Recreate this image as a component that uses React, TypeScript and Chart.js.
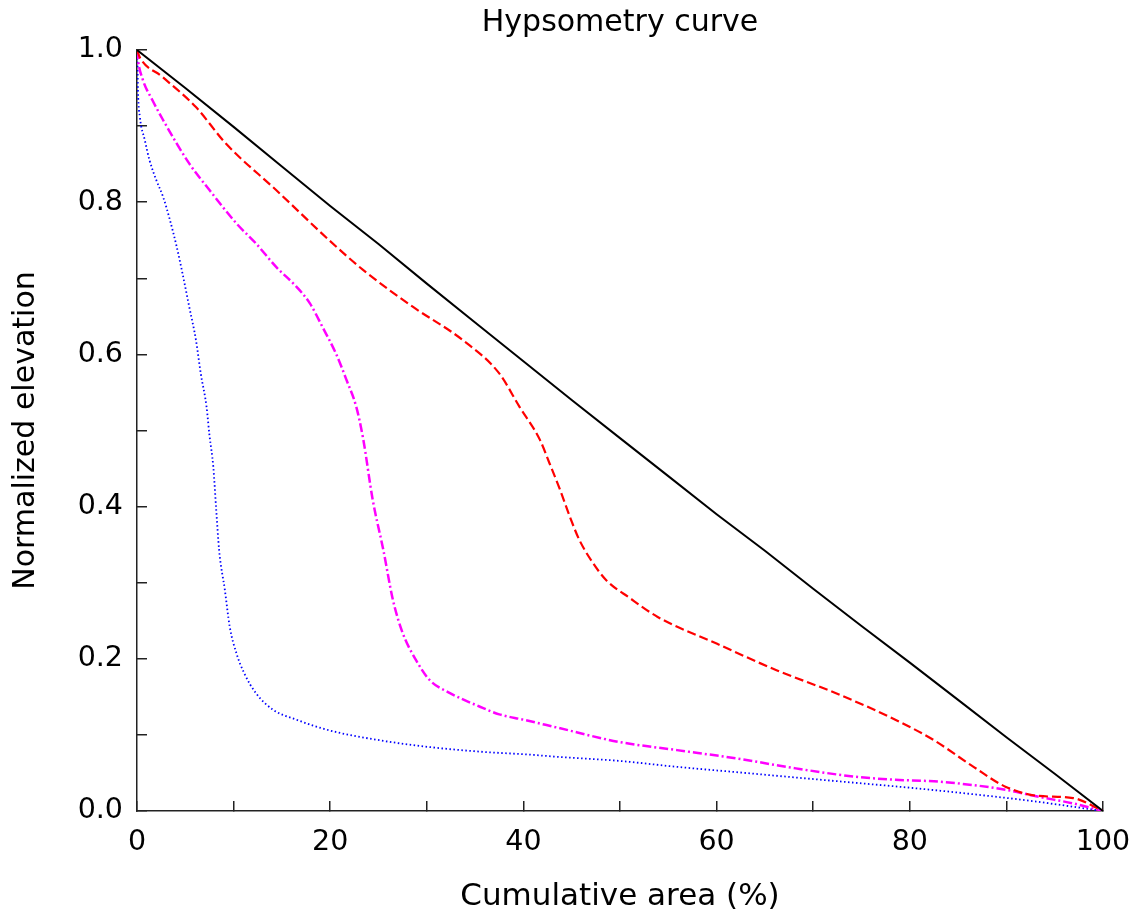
import React, { useEffect, useRef } from 'react';
import { Chart, registerables } from 'chart.js';

Chart.register(...registerables);

const FONT = '"DejaVu Sans", Verdana, sans-serif';

const chartTitle = 'Hypsometry curve';
const xAxisTitle = 'Cumulative area (%)';
const yAxisTitle = 'Normalized elevation';

// Black (solid)
const blackX = [0, 5, 10, 15, 20, 25, 30, 35, 40, 45, 50, 55, 60, 65, 70, 75, 80, 85, 90, 95, 100];
const blackY = [1.0, 0.95, 0.899, 0.847, 0.795, 0.745, 0.693, 0.642, 0.591, 0.54, 0.49, 0.44, 0.39, 0.342, 0.292, 0.243, 0.195, 0.146, 0.097, 0.049, 0.0];

// Red (dashed)
const redX = [0, 0.3, 2.6, 6.1, 9.2, 14.4, 19.9, 23.4, 28.5, 33.7, 37.5, 39.6, 41.7, 42.7, 43.8, 44.8, 45.8, 47.2, 48.6, 51.0, 53.9, 60, 66.2, 72.3, 78.5, 82.5, 86.6, 89.9, 93.2, 96.9, 100];
const redY = [1.0, 0.99, 0.965, 0.925, 0.877, 0.816, 0.75, 0.711, 0.663, 0.619, 0.575, 0.531, 0.488, 0.457, 0.422, 0.387, 0.356, 0.326, 0.303, 0.28, 0.255, 0.22, 0.185, 0.155, 0.12, 0.093, 0.058, 0.032, 0.02, 0.017, 0.0];

// Magenta (dash-dot)
const magentaX = [0, 0.1, 0.6, 1.6, 2.7, 5.4, 7.5, 10.3, 12.3, 14.4, 16.5, 17.9, 19.2, 20.6, 21.7, 22.7, 23.4, 24.4, 25.5, 26.5, 27.5, 28.9, 30.3, 32.4, 35.5, 37.5, 40, 43.7, 49.8, 55.9, 62.1, 68.2, 74.4, 78.5, 82.5, 86.6, 89.9, 93.2, 96.9, 100];
const magentaY = [1.0, 0.987, 0.961, 0.934, 0.908, 0.851, 0.816, 0.772, 0.746, 0.715, 0.689, 0.667, 0.636, 0.601, 0.566, 0.531, 0.49, 0.409, 0.343, 0.277, 0.234, 0.198, 0.172, 0.155, 0.137, 0.127, 0.12, 0.109, 0.091, 0.08, 0.069, 0.056, 0.045, 0.041, 0.039, 0.034, 0.028, 0.019, 0.01, 0.0];

// Blue (dotted)
const blueX = [0, 0.05, 0.1, 0.3, 0.8, 1.3, 2.0, 2.7, 3.4, 4.1, 4.7, 5.4, 6.1, 6.6, 7.2, 7.5, 7.9, 8.2, 8.5, 9.1, 9.6, 10.3, 11.1, 12.3, 14.1, 16.5, 19.9, 25.1, 30.3, 35.5, 40.7, 43.7, 49.8, 55.9, 62.1, 68.2, 74.4, 80.5, 86.6, 92.7, 100];
const blueY = [1.0, 0.982, 0.947, 0.912, 0.882, 0.855, 0.829, 0.807, 0.777, 0.742, 0.707, 0.663, 0.619, 0.575, 0.531, 0.494, 0.452, 0.396, 0.343, 0.29, 0.242, 0.207, 0.181, 0.155, 0.133, 0.12, 0.106, 0.093, 0.084, 0.078, 0.074, 0.071, 0.066, 0.058, 0.051, 0.044, 0.037, 0.03, 0.022, 0.013, 0.0];

const xMajorTicks = [0, 20, 40, 60, 80, 100];
const yMajorTicks = ['0.0', '0.2', '0.4', '0.6', '0.8', '1.0'];

function pts(xs: number[], ys: number[]) {
  return xs.map((x, i) => ({ x, y: ys[i] }));
}

const titlePlugin = {
  id: 'centeredTitle',
  afterDraw(chart: any) {
    const { ctx, chartArea } = chart;
    ctx.save();
    ctx.font = `normal 30px ${FONT}`;
    ctx.fillStyle = '#000';
    ctx.textAlign = 'center';
    ctx.textBaseline = 'alphabetic';
    ctx.fillText(chartTitle, (chartArea.left + chartArea.right) / 2, 31);
    ctx.restore();
  },
};

export default function App() {
  const ref = useRef<HTMLCanvasElement>(null);

  useEffect(() => {
    if (!ref.current) return;
    const axisColor = '#222';
    const chart = new Chart(ref.current, {
      type: 'line',
      data: {
        datasets: [
          { data: pts(blackX, blackY), borderColor: '#000000', borderWidth: 2, pointRadius: 0, tension: 0, fill: false },
          { data: pts(redX, redY), borderColor: '#ff0000', borderWidth: 2.2, borderDash: [9, 4], pointRadius: 0, cubicInterpolationMode: 'monotone', fill: false },
          { data: pts(magentaX, magentaY), borderColor: '#ff00ff', borderWidth: 2.5, borderDash: [9, 3, 2, 3], pointRadius: 0, cubicInterpolationMode: 'monotone', fill: false },
          { data: pts(blueX, blueY), borderColor: '#0000ff', borderWidth: 1.8, borderDash: [1.5, 2.5], pointRadius: 0, cubicInterpolationMode: 'monotone', fill: false },
        ] as any,
      },
      options: {
        animation: false,
        responsive: true,
        maintainAspectRatio: false,
        layout: { padding: { left: 0, right: 42, top: 50, bottom: 0 } },
        plugins: {
          legend: { display: false },
          tooltip: { enabled: false },
          title: { display: false },
        },
        scales: {
          x: {
            type: 'linear',
            min: 0,
            max: 100,
            ticks: {
              stepSize: 10,
              autoSkip: false,
              maxRotation: 0,
              color: '#000',
              padding: 24,
              font: { family: FONT, size: 28.5 },
              callback: (v: any) => (xMajorTicks.includes(Number(v)) ? String(v) : ''),
            },
            grid: { drawOnChartArea: false, drawTicks: true, tickLength: -10, color: axisColor, lineWidth: 1.5 },
            border: { display: true, color: axisColor, width: 1.5 },
            title: {
              display: true,
              text: xAxisTitle,
              color: '#000',
              font: { family: FONT, size: 31 },
              padding: { top: 0, bottom: 5 },
            },
            afterFit: (s: any) => { s.height = 110; s.paddingLeft = 0; s.paddingRight = 0; },
          },
          y: {
            type: 'linear',
            min: 0,
            max: 1,
            ticks: {
              stepSize: 0.1,
              autoSkip: false,
              color: '#000',
              padding: 24,
              font: { family: FONT, size: 28.5 },
              callback: (v: any) => {
                const s = Number(v).toFixed(1);
                return yMajorTicks.includes(s) ? s : '';
              },
            },
            grid: { drawOnChartArea: false, drawTicks: true, tickLength: -10, color: axisColor, lineWidth: 1.5 },
            border: { display: true, color: axisColor, width: 1.5 },
            title: {
              display: true,
              text: yAxisTitle,
              color: '#000',
              font: { family: FONT, size: 30 },
              padding: { top: 8, bottom: 0 },
            },
            afterFit: (s: any) => { s.width = 137; s.paddingTop = 0; s.paddingBottom = 0; },
          },
        },
      } as any,
      plugins: [titlePlugin],
    });
    return () => chart.destroy();
  }, []);

  return (
    <div style={{ position: 'fixed', left: 0, top: 0, width: 1145, height: 921, background: '#fff' }}>
      <canvas ref={ref} />
    </div>
  );
}
